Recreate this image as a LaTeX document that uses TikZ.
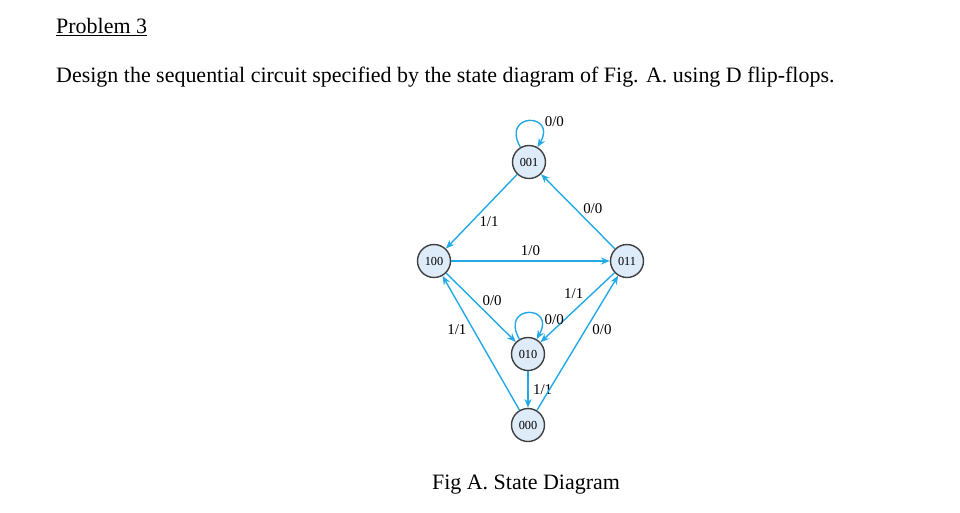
\documentclass[tikz,border=0pt]{standalone}
\usepackage{fontspec}
\setmainfont{Liberation Serif}
\usetikzlibrary{arrows.meta}
\definecolor{edgecyan}{RGB}{35,170,230}
\definecolor{statefill}{RGB}{222,236,250}
\begin{document}
\begin{tikzpicture}[x=0.02cm,y=-0.02cm,
    state/.style={circle,draw=black!75,thick,fill=statefill,inner sep=0pt,
      minimum size=0.66cm,font=\fontsize{7}{8}\selectfont},
    trans/.style={draw=edgecyan,thick,-{Stealth[length=5pt,width=4pt]}},
    lbl/.style={font=\fontsize{8.5}{10}\selectfont,inner sep=1.5pt}]
  \useasboundingbox (0,0) rectangle (960,512);

  \node[anchor=base west,font=\fontsize{12.5}{14}\selectfont] (title) at (50,33)
    {\underline{Problem 3}};
  \node[anchor=base west,font=\fontsize{12.5}{14}\selectfont] (task) at (50,82)
    {Design the sequential circuit specified by the state diagram of Fig. A. using D flip-flops.};

  % states
  \node[state] (s001) at (529,162) {001};
  \node[state] (s100) at (434,261) {100};
  \node[state] (s011) at (627,261) {011};
  \node[state] (s010) at (528,354) {010};
  \node[state] (s000) at (528,425) {000};

  % transitions
  \draw[trans] (s001) to[out=120,in=60,looseness=6] node[lbl,pos=0.6,right=4pt] {0/0} (s001);
  \draw[trans] (s001) -- node[lbl,pos=0.55,below right=-1pt] {1/1} (s100);
  \draw[trans] (s011) -- node[lbl,pos=0.45,above right=-1pt] {0/0} (s001);
  \draw[trans] (s100) -- node[lbl,above=1pt] {1/0} (s011);
  \draw[trans] (s100) -- node[lbl,pos=0.5,above right=-1pt] {0/0} (s010);
  \draw[trans] (s011) -- node[lbl,pos=0.4,above left=-1pt] {1/1} (s010);
  \draw[trans] (s010) to[out=120,in=60,looseness=6] node[lbl,pos=0.75,right=1pt] {0/0} (s010);
  \draw[trans] (s010) -- node[lbl,right=1pt] {1/1} (s000);
  \draw[trans] (s000) -- node[lbl,pos=0.6,left=2pt] {1/1} (s100);
  \draw[trans] (s000) -- node[lbl,pos=0.6,right=2pt] {0/0} (s011);

  \node[anchor=base,font=\fontsize{12.5}{14}\selectfont] (caption) at (526,489)
    {Fig A. State Diagram};
\end{tikzpicture}
\end{document}
